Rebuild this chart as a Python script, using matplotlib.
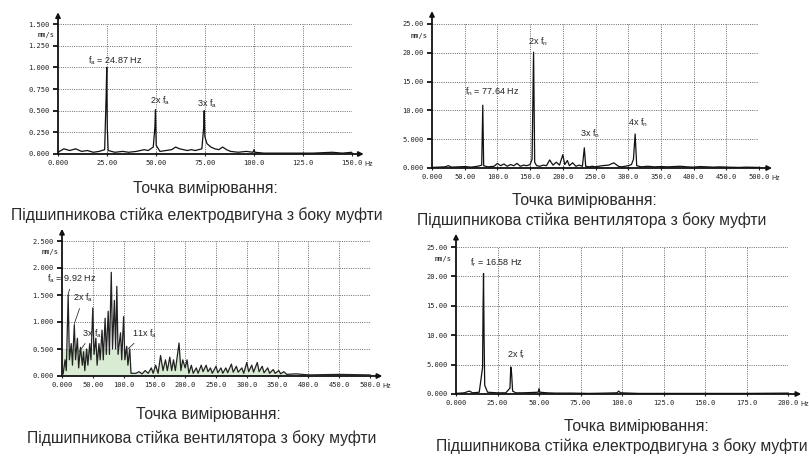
import numpy as np
import matplotlib
matplotlib.use("Agg")
import matplotlib.pyplot as plt

W, H = 809, 457

# ---------------- data ----------------
# Panel 1 (top-left): motor bearing, coupling side
p1_freq = [0, 3, 6, 9, 12, 15, 18, 21, 23.8, 24.6, 24.87, 25.15, 25.6, 29, 33, 36, 40, 44, 46, 48.6,
           49.4, 49.74, 50.1, 52, 55, 58, 60, 62, 64, 66, 68, 70, 73.4, 74.3, 74.6, 74.95, 76, 78,
           80, 82, 84, 86, 88, 92, 96, 99.5, 100, 100.5, 105, 110, 120, 130, 140, 145, 150]
p1_amp = [0.02, 0.06, 0.04, 0.06, 0.03, 0.04, 0.02, 0.03, 0.05, 0.7, 1.0, 0.3, 0.04, 0.02, 0.03,
          0.02, 0.03, 0.05, 0.04, 0.08, 0.3, 0.51, 0.1, 0.03, 0.04, 0.05, 0.08, 0.06, 0.05, 0.04,
          0.05, 0.04, 0.06, 0.3, 0.5, 0.2, 0.12, 0.08, 0.06, 0.05, 0.08, 0.05, 0.03, 0.02, 0.03,
          0.02, 0.05, 0.02, 0.01, 0.01, 0.01, 0.01, 0.02, 0.01, 0.02]
p1_xticks = [0, 25, 50, 75, 100, 125, 150]
p1_xlabels = ["0.000", "25.00", "50.00", "75.00", "100.0", "125.0", "150.0"]
p1_yticks = [0, 0.25, 0.5, 0.75, 1.0, 1.25, 1.5]
p1_ylabels = ["0.000", "0.250", "0.500", "0.750", "1.000", "1.250", "1.500"]

# Panel 2 (top-right): fan bearing, coupling side
p2_freq = [0, 10, 20, 25, 30, 40, 50, 60, 70, 76, 77.64, 79, 85, 95, 100, 105, 110, 115, 120, 125,
           130, 135, 140, 145, 150, 153, 155.3, 157, 160, 165, 170, 175, 180, 185, 190, 195, 200,
           203, 207, 210, 215, 220, 225, 230, 232.9, 235, 240, 245, 250, 260, 270, 278, 285, 290,
           300, 305, 308, 310.6, 313, 320, 330, 340, 350, 360, 370, 380, 390, 400, 410, 420, 430,
           440, 450, 470, 480, 500]
p2_amp = [0.1, 0.15, 0.2, 0.4, 0.15, 0.2, 0.25, 0.15, 0.3, 0.5, 10.9, 0.4, 0.2, 0.3, 0.8, 0.4, 0.7,
          0.3, 0.6, 0.4, 0.8, 0.3, 0.5, 0.4, 0.6, 1.5, 20.1, 1.0, 0.4, 0.3, 0.5, 0.4, 1.4, 0.5, 1.0,
          0.5, 2.3, 0.6, 1.3, 0.4, 0.9, 0.3, 0.5, 0.3, 3.5, 0.3, 0.2, 0.3, 0.2, 0.4, 0.5, 0.9, 0.3,
          0.2, 0.4, 0.6, 1.5, 5.9, 0.4, 0.2, 0.3, 0.2, 0.25, 0.2, 0.25, 0.3, 0.2, 0.15, 0.25, 0.2,
          0.15, 0.2, 0.15, 0.1, 0.15, 0.1]
p2_xticks = [0, 50, 100, 150, 200, 250, 300, 350, 400, 450, 500]
p2_xlabels = ["0.000", "50.00", "100.0", "150.0", "200.0", "250.0", "300.0", "350.0", "400.0",
              "450.0", "500.0"]
p2_yticks = [0, 5, 10, 15, 20, 25]
p2_ylabels = ["0.000", "5.000", "10.00", "15.00", "20.00", "25.00"]

# Panel 3 (bottom-left): fan bearing, coupling side
p3_freq = [0, 2, 5, 7, 10, 12, 15, 17, 20, 22, 25, 27, 30, 33, 35, 37, 40, 42, 45, 47, 50, 52, 55,
           57, 60, 62, 65, 67, 70, 72, 75, 77, 80, 82, 85, 87, 89, 91, 95, 97, 100, 102, 105, 107,
           110, 112, 120, 125, 130, 135, 140, 145, 148, 152, 156, 160, 164, 168, 171, 175, 178, 181,
           184, 190, 193, 196, 200, 203, 206, 210, 213, 218, 221, 226, 229, 234, 237, 241, 244, 250,
           253, 258, 261, 266, 269, 275, 278, 283, 286, 292, 295, 300, 303, 308, 311, 317, 320, 325,
           328, 334, 337, 343, 346, 352, 355, 360, 365, 380, 400, 450, 500]
p3_amp = [0, 0.05, 0.3, 0.1, 1.5, 0.3, 0.6, 0.2, 0.95, 0.3, 0.7, 0.15, 0.53, 0.2, 0.45, 0.1, 0.5,
          0.2, 0.6, 0.3, 1.26, 0.4, 0.7, 0.2, 0.6, 0.3, 0.85, 0.3, 1.07, 0.4, 1.2, 0.4, 1.92, 0.5,
          1.4, 0.5, 1.66, 0.4, 0.8, 0.3, 1.1, 0.3, 0.55, 0.2, 0.5, 0.05, 0.05, 0.08, 0.04, 0.1, 0.05,
          0.15, 0.05, 0.2, 0.05, 0.38, 0.1, 0.3, 0.1, 0.35, 0.1, 0.3, 0.1, 0.61, 0.1, 0.3, 0.15, 0.3,
          0.05, 0.2, 0.05, 0.15, 0.05, 0.2, 0.08, 0.2, 0.08, 0.15, 0.05, 0.18, 0.06, 0.15, 0.05, 0.15,
          0.06, 0.22, 0.07, 0.18, 0.07, 0.15, 0.05, 0.25, 0.08, 0.2, 0.07, 0.25, 0.08, 0.18, 0.06,
          0.15, 0.05, 0.12, 0.05, 0.1, 0.04, 0.08, 0.03, 0.04, 0.02, 0.03, 0.02]
p3_band_hi = 110      # shaded low-frequency band (Hz)
p3_band_level = 0.5   # shaded band level (mm/s)
p3_xticks = p2_xticks
p3_xlabels = p2_xlabels
p3_yticks = [0, 0.5, 1.0, 1.5, 2.0, 2.5]
p3_ylabels = ["0.000", "0.500", "1.000", "1.500", "2.000", "2.500"]

# Panel 4 (bottom-right): motor bearing, coupling side
p4_freq = [0, 5, 8, 10, 14, 16.0, 16.3, 16.58, 16.9, 17.3, 19, 25, 30, 32.5, 33, 33.5, 34.1, 36, 40,
           45, 49.5, 50, 50.5, 55, 60, 70, 80, 90, 97, 98, 99, 110, 125, 150, 175, 200]
p4_amp = [0.1, 0.2, 0.5, 0.2, 0.3, 4.5, 14.4, 20.5, 10, 1.5, 0.3, 0.2, 0.2, 1.0, 4.6, 3.5, 0.5, 0.2,
          0.2, 0.25, 0.3, 0.9, 0.3, 0.2, 0.15, 0.15, 0.1, 0.15, 0.2, 0.5, 0.2, 0.1, 0.1, 0.1, 0.1, 0.15]
p4_xticks = [0, 25, 50, 75, 100, 125, 150, 175, 200]
p4_xlabels = ["0.000", "25.00", "50.00", "75.00", "100.0", "125.0", "150.0", "175.0", "200.0"]
p4_yticks = p2_yticks
p4_ylabels = p2_ylabels

cap1 = "Точка вимірювання:"
cap_motor = "Підшипникова стійка електродвигуна з боку муфти"
cap_fan = "Підшипникова стійка вентилятора з боку муфти"

# ---------------- drawing ----------------
fig = plt.figure(figsize=(W / 100, H / 100), dpi=100)
fig.patch.set_facecolor("white")

TICKFONT = dict(family="DejaVu Sans Mono", size=5.0, color="#222222")
LABEL = dict(fontsize=6.5, family="Liberation Sans", color="#222222", va="center")
CAPFONT = dict(family="Liberation Sans", size=11.3, color="#2a2a2a")


def make_ax(x0, y0, x1, y1):
    return fig.add_axes([x0 / W, 1 - y1 / H, (x1 - x0) / W, (y1 - y0) / H])


def style(ax, xticks, xlabels, yticks, ylabels):
    ax.set_xlim(xticks[0], xticks[-1])
    ax.set_ylim(yticks[0], yticks[-1])
    for s in ax.spines.values():
        s.set_visible(False)
    for xv in xticks[1:]:
        ax.axvline(xv, color="#6a6a6a", lw=0.7, ls=(0, (1, 1.3)), zorder=1)
    for yv in yticks[1:]:
        ax.axhline(yv, color="#6a6a6a", lw=0.7, ls=(0, (1, 1.3)), zorder=1)
    ax.set_xticks(xticks)
    ax.set_xticklabels(xlabels, fontdict=TICKFONT)
    ax.set_yticks(yticks)
    ax.set_yticklabels(ylabels, fontdict=TICKFONT)
    ax.tick_params(axis="y", direction="out", length=3.5, width=1.4, pad=2.5, color="#222222")
    ax.tick_params(axis="x", direction="inout", length=3, width=0.8, pad=3, color="#222222")
    ax.annotate("", xy=(0, 1.09), xytext=(0, 0), xycoords="axes fraction",
                arrowprops=dict(arrowstyle="-|>", lw=1.3, color="#111111",
                                mutation_scale=7, shrinkA=0, shrinkB=0),
                annotation_clip=False)
    ax.annotate("", xy=(1.04, 0), xytext=(0, 0), xycoords="axes fraction",
                arrowprops=dict(arrowstyle="-|>", lw=1.3, color="#111111",
                                mutation_scale=7, shrinkA=0, shrinkB=0),
                annotation_clip=False)
    ax.annotate("Hz", xy=(1, 0), xycoords="axes fraction", xytext=(8.6, -7.3),
                textcoords="offset points", ha="left", va="center",
                fontsize=5.0, family="Liberation Sans", color="#222222",
                annotation_clip=False)
    ax.text(-0.012, 0.915, "mm/s", transform=ax.transAxes, ha="right", va="center",
            fontsize=5, family="DejaVu Sans Mono", color="#222222")
    ax.set_facecolor("white")


# Panel 1
ax1 = make_ax(58, 24, 352, 154)
style(ax1, p1_xticks, p1_xlabels, p1_yticks, p1_ylabels)
ax1.plot(p1_freq, p1_amp, color="#111111", lw=0.9, zorder=3)
ax1.text(15.5, 1.08, r"f$_\mathregular{a}$ = 24.87 Hz", **LABEL)
ax1.text(47, 0.62, r"2x f$_\mathregular{a}$", **LABEL)
ax1.text(71, 0.58, r"3x f$_\mathregular{a}$", **LABEL)

# Panel 2
ax2 = make_ax(432, 24, 759, 168)
style(ax2, p2_xticks, p2_xlabels, p2_yticks, p2_ylabels)
ax2.plot(p2_freq, p2_amp, color="#111111", lw=0.9, zorder=3)
ax2.text(50, 13.2, r"f$_\mathregular{n}$ = 77.64 Hz", **LABEL)
ax2.text(147, 21.9, r"2x f$_\mathregular{n}$", **LABEL)
ax2.text(226, 5.9, r"3x f$_\mathregular{n}$", **LABEL)
ax2.text(300, 7.8, r"4x f$_\mathregular{n}$", **LABEL)

# Panel 3
ax3 = make_ax(62, 241, 370, 376)
style(ax3, p3_xticks, p3_xlabels, p3_yticks, p3_ylabels)
f3 = np.asarray(p3_freq, dtype=float)
a3 = np.asarray(p3_amp, dtype=float)
ax3.fill_between(f3, 0, np.where(f3 <= p3_band_hi, p3_band_level, a3),
                 color="#d9ebd2", lw=0, zorder=2)
ax3.plot(f3, a3, color="#222222", lw=0.9, zorder=3)
lead = dict(arrowstyle="-", lw=0.6, color="#333333", shrinkA=1, shrinkB=0)
ax3.annotate(r"f$_\mathregular{a}$ = 9.92 Hz", xy=(10, 1.5), xytext=(-24, 1.8),
             arrowprops=lead, annotation_clip=False, **LABEL)
ax3.annotate(r"2x f$_\mathregular{a}$", xy=(20, 0.97), xytext=(18, 1.44),
             arrowprops=lead, **LABEL)
ax3.annotate(r"3x f$_\mathregular{a}$", xy=(28, 0.45), xytext=(33, 0.79),
             arrowprops=lead, **LABEL)
ax3.annotate(r"11x f$_\mathregular{a}$", xy=(107, 0.5), xytext=(114, 0.79),
             arrowprops=lead, **LABEL)

# Panel 4
ax4 = make_ax(456, 247, 788, 394)
style(ax4, p4_xticks, p4_xlabels, p4_yticks, p4_ylabels)
ax4.plot(p4_freq, p4_amp, color="#111111", lw=0.9, zorder=3)
ax4.text(8.4, 22.3, r"f$_\mathregular{r}$ = 16.58 Hz", **LABEL)
ax4.text(31, 6.6, r"2x f$_\mathregular{r}$", **LABEL)


def cap(x, y, s):
    fig.text(x / W, 1 - y / H, s, ha="center", va="center", **CAPFONT)


cap(205, 188, cap1)
cap(197, 215, cap_motor)
cap(584, 200, cap1)
cap(592, 220, cap_fan)
cap(208, 415, cap1)
cap(202, 438, cap_fan)
cap(636, 427, cap1)
cap(622, 446, cap_motor)

fig.savefig("out.png", dpi=100, facecolor="white")
